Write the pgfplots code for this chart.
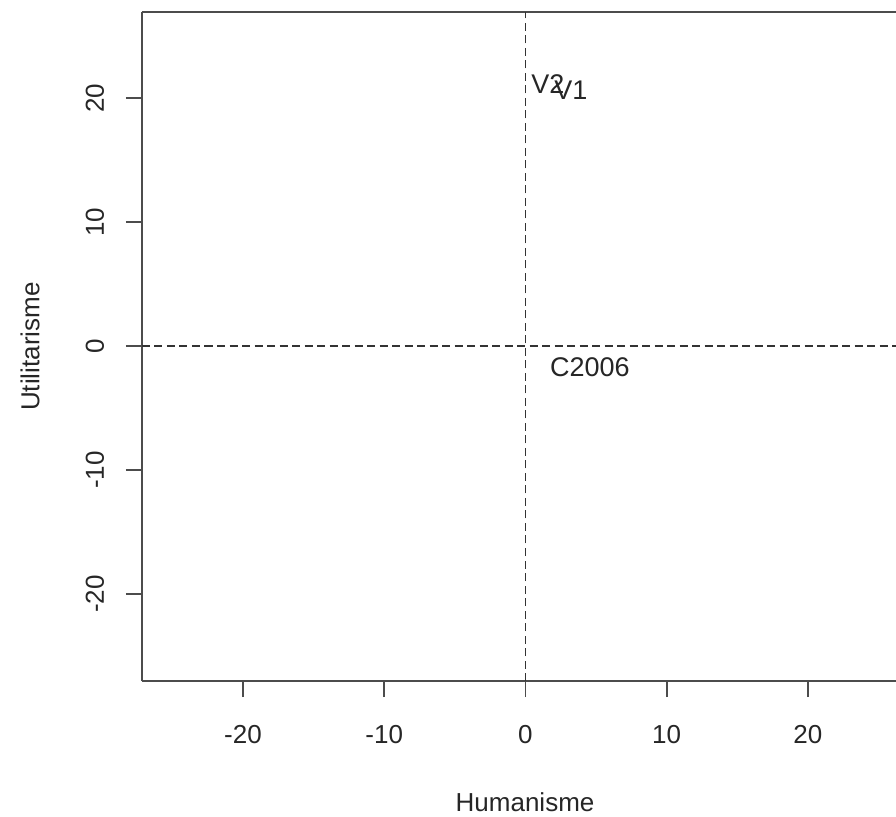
\documentclass[border=0pt]{standalone}
\usepackage{fontspec}
\setmainfont{Liberation Sans}
\usepackage{pgfplots}
\pgfplotsset{compat=1.18}
\begin{document}
\begin{tikzpicture}
\useasboundingbox (-142pt,-135pt) rectangle (754pt,681pt);
\begin{axis}[
  at={(0,0)}, anchor=south west,
  scale only axis,
  width=754pt, height=669pt,
  xmin=-27.15, xmax=26.24,
  ymin=-27.0, ymax=26.94,
  axis x line*=bottom,
  axis y line*=left,
  axis line style={-, black!70, line width=2pt},
  tick style={black!70, line width=1.8pt},
  tick align=outside,
  major tick length=16pt,
  xtick={-20,-10,0,10,20},
  xticklabels={-20,-10,0,10,20},
  ytick={-20,-10,0,10,20},
  yticklabels={-20,-10,0,10,20},
  font=\fontsize{26}{31}\selectfont,
  every x tick label/.style={anchor=center, yshift=-38pt, text=black!85},
  every y tick label/.style={anchor=center, xshift=-31pt, rotate=90, text=black!85},
  xlabel={Humanisme},
  ylabel={Utilitarisme},
  every axis x label/.style={at={(rel axis cs:0.508,0)}, anchor=center, yshift=-121pt, text=black!85},
  every axis y label/.style={at={(rel axis cs:0,0.5)}, anchor=center, xshift=-112pt, rotate=90, text=black!85},
  clip=false,
]
\draw[black!70, line width=2pt] (rel axis cs:0,1) -- (rel axis cs:1,1);
\addplot[black!80, line width=1.8pt, dash pattern=on 8pt off 4.5pt] coordinates {(0,-27.0) (0,26.94)};
\addplot[black!80, line width=1.8pt, dash pattern=on 8pt off 4.5pt] coordinates {(-27.15,0) (26.24,0)};
\addplot[only marks, mark=none, point meta=explicit symbolic,
  nodes near coords,
  every node near coord/.style={anchor=center, text=black!85, font=\fontsize{27}{31}\selectfont, inner sep=0pt}]
  table[meta=label] {
x y label
1.59 21.1 V2
3.22 20.6 V1
4.57 -1.7 C2006
};
\end{axis}
\end{tikzpicture}
\end{document}
